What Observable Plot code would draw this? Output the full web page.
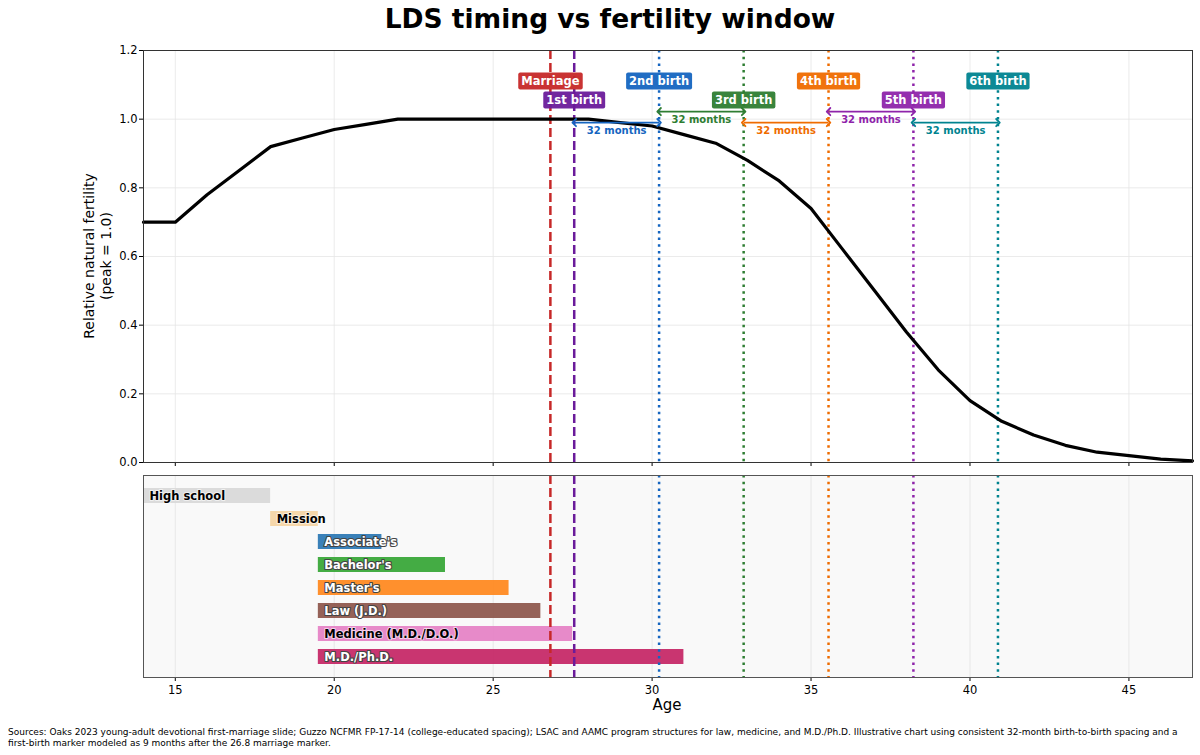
<!DOCTYPE html>
<html>
<head>
<meta charset="utf-8">
<script src="https://cdn.jsdelivr.net/npm/d3@7"></script>
<script src="https://cdn.jsdelivr.net/npm/@observablehq/plot@0.6"></script>
<style>
  html, body { margin: 0; padding: 0; background: #fff; }
  body { width: 1200px; height: 755px; position: relative; overflow: hidden; font-family: "DejaVu Sans", sans-serif; }
  #title { position: absolute; left: 20px; top: 3px; width: 1180px; text-align: center; font-size: 26.5px; font-weight: bold; color: #000; }
  #top { position: absolute; left: 0; top: 40px; }
  #bottom { position: absolute; left: 0; top: 468px; }
  #ylab { position: absolute; width: 420px; left: -112px; top: 239px; text-align: center; font-size: 14px; line-height: 17px; transform: rotate(-90deg); transform-origin: 50% 50%; color: #000; }
  #xlab { position: absolute; left: 567px; width: 200px; top: 696px; text-align: center; font-size: 15px; color: #000; }
  #caption { position: absolute; left: 8px; top: 727px; font-size: 9px; line-height: 11px; color: #000; white-space: nowrap; }
</style>
</head>
<body>
<div id="title">LDS timing vs fertility window</div>
<div id="top"></div>
<div id="bottom"></div>
<div id="ylab">Relative natural fertility<br>(peak = 1.0)</div>
<div id="xlab">Age</div>
<div id="caption">Sources: Oaks 2023 young-adult devotional first-marriage slide; Guzzo NCFMR FP-17-14 (college-educated spacing); LSAC and AAMC program structures for law, medicine, and M.D./Ph.D. Illustrative chart using consistent 32-month birth-to-birth spacing and a<br>first-birth marker modeled as 9 months after the 26.8 marriage marker.</div>
<script>
// ---- data ----
const ages = [14,15,16,17,18,19,20,21,22,23,24,25,26,27,28,29,30,31,32,33,34,35,36,37,38,39,40,41,42,43,44,45,46,47];
const fertility = [0.70,0.70,0.78,0.85,0.92,0.945,0.97,0.985,1.0,1.0,1.0,1.0,1.0,1.0,1.0,0.99,0.98,0.955,0.93,0.88,0.82,0.74,0.62,0.50,0.38,0.27,0.18,0.12,0.08,0.05,0.03,0.02,0.01,0.005];

const eventNames = ["Marriage","1st birth","2nd birth","3rd birth","4th birth","5th birth","6th birth"];
const eventAges = [26.8, 27.55, 30.22, 32.88, 35.55, 38.22, 40.88];
const eventColors = ["#c62828","#6a1b9a","#1565c0","#2e7d32","#ef6c00","#8e24aa","#00838f"];
const eventKinds = ["dashed","dashed","dotted","dotted","dotted","dotted","dotted"];
const spacingLabel = "32 months";

const programs = ["High school","Mission","Associate's","Bachelor's","Master's","Law (J.D.)","Medicine (M.D./D.O.)","M.D./Ph.D."];
const progStart = [14, 18, 19.5, 19.5, 19.5, 19.5, 19.5, 19.5];
const progEnd = [18, 19.5, 21.5, 23.5, 25.5, 26.5, 27.5, 31];
const progColors = ["#d9d9d9","#f5d5a5","#2f7ab5","#3aa83a","#ff8a22","#8f5a4f","#e684c6","#c62a68"];
const progTextDark = [true, true, false, false, false, false, true, false];

const xTicks = [15,20,25,30,35,40,45];
const yTicks = [0,0.2,0.4,0.6,0.8,1.0,1.2];

// ---- tables ----
const curve = ages.map((a,i) => ({age:a, f:fertility[i]}));
const events = eventNames.map((n,i) => ({name:n, age:eventAges[i], color:eventColors[i], kind:eventKinds[i], level: i % 2 === 0 ? 1.11 : 1.055}));
const spans = d3.range(1, eventAges.length - 1).map(i => ({
  a1: eventAges[i], a2: eventAges[i+1], color: eventColors[i+1],
  y: i % 2 === 1 ? 0.99 : 1.022, label: spacingLabel
}));
const progs = programs.map((p,i) => ({name:p, start:progStart[i], end:progEnd[i], color:progColors[i], dark:progTextDark[i]}));

const W = 1200, ML = 143, MR = 8;
const xDomain = [14, 47];
const dashMark = (data) => [
  Plot.ruleX(data.filter(d => d.kind === "dashed"), {x:"age", stroke:"color", strokeWidth:2.5, strokeDasharray:"9,4"}),
  Plot.ruleX(data.filter(d => d.kind === "dotted"), {x:"age", stroke:"color", strokeWidth:2.5, strokeDasharray:"2.5,4.2"})
];

const topPlot = Plot.plot({
  width: W, height: 428,
  marginLeft: ML, marginRight: MR, marginTop: 10, marginBottom: 6,
  style: {fontFamily: "DejaVu Sans", fontSize: "11.5px", background: "white", overflow: "visible", color: "#000"},
  x: {domain: xDomain, axis: null},
  y: {domain: [0, 1.2], axis: null},
  marks: [
    Plot.gridX(xTicks, {stroke: "#e6e6e6", strokeOpacity: 1, strokeWidth: 0.8}),
    Plot.gridY(yTicks, {stroke: "#e6e6e6", strokeOpacity: 1, strokeWidth: 0.8}),
    ...dashMark(events),
    Plot.line(curve, {x:"age", y:"f", stroke:"#000", strokeWidth:3.2}),
    Plot.link(spans, {x1:"a1", x2:"a2", y1:"y", y2:"y", stroke:"color", strokeWidth:1.8, markerStart:"arrow-reverse", markerEnd:"arrow"}),
    Plot.text(spans, {x: d => (d.a1 + d.a2)/2, y:"y", text:"label", fill:"color", fontWeight:"bold", fontSize:10, dy:8}),
    Plot.text(events, {x:"age", y:"level", text:"name", fill:"white", fontWeight:"bold", fontSize:11.5}),
    Plot.axisY(yTicks, {tickFormat: d3.format(".1f"), fontSize: 11.5, tickSize: 4, tickPadding: 2, label: null}),
    Plot.axisX(xTicks, {tickFormat: () => "", tickSize: 4, label: null}),
    Plot.frame({stroke: "#333", strokeWidth: 1})
  ]
});
document.getElementById("top").appendChild(topPlot);

// background boxes behind the event labels
const colorByName = new Map(events.map(e => [e.name, e.color]));
topPlot.querySelectorAll("text").forEach(t => {
  const c = colorByName.get(t.textContent);
  if (!c) return;
  const b = t.getBBox();
  const r = document.createElementNS("http://www.w3.org/2000/svg", "rect");
  const px = 3, py = 1.5;
  r.setAttribute("x", b.x - px);
  r.setAttribute("y", b.y - py);
  r.setAttribute("width", b.width + 2*px);
  r.setAttribute("height", b.height + 2*py);
  r.setAttribute("rx", 2);
  r.setAttribute("fill", c);
  r.setAttribute("fill-opacity", 0.95);
  const tr = t.getAttribute("transform");
  if (tr) r.setAttribute("transform", tr);
  t.parentNode.insertBefore(r, t);
});

const bottomPlot = Plot.plot({
  width: W, height: 254,
  marginLeft: ML, marginRight: MR, marginTop: 7, marginBottom: 45,
  style: {fontFamily: "DejaVu Sans", fontSize: "11.5px", background: "white", overflow: "visible", color: "#000"},
  x: {domain: xDomain, axis: null},
  y: {domain: programs, paddingInner: 0.36, paddingOuter: 0.45, axis: null},
  marks: [
    Plot.frame({fill: "#f9f9f9"}),
    Plot.gridX(xTicks, {stroke: "#e3e3e3", strokeOpacity: 1, strokeWidth: 0.8}),
    Plot.barX(progs, {y:"name", x1:"start", x2:"end", fill:"color", fillOpacity: 0.95}),
    Plot.text(progs.filter(d => d.dark), {y:"name", x:"start", text:"name", textAnchor:"start", dx:6, fill:"#000", stroke:"white", strokeWidth:2, strokeOpacity:0.6, fontWeight:"bold", fontSize:11.5}),
    Plot.text(progs.filter(d => !d.dark), {y:"name", x:"start", text:"name", textAnchor:"start", dx:6, fill:"white", stroke:"#444", strokeWidth:2.2, fontWeight:"bold", fontSize:11.5}),
    ...dashMark(events),
    Plot.axisX(xTicks, {tickSize: 4, tickPadding: 4, fontSize: 11.5, label: null}),
    Plot.frame({stroke: "#555", strokeWidth: 1})
  ]
});
document.getElementById("bottom").appendChild(bottomPlot);
</script>
</body>
</html>
